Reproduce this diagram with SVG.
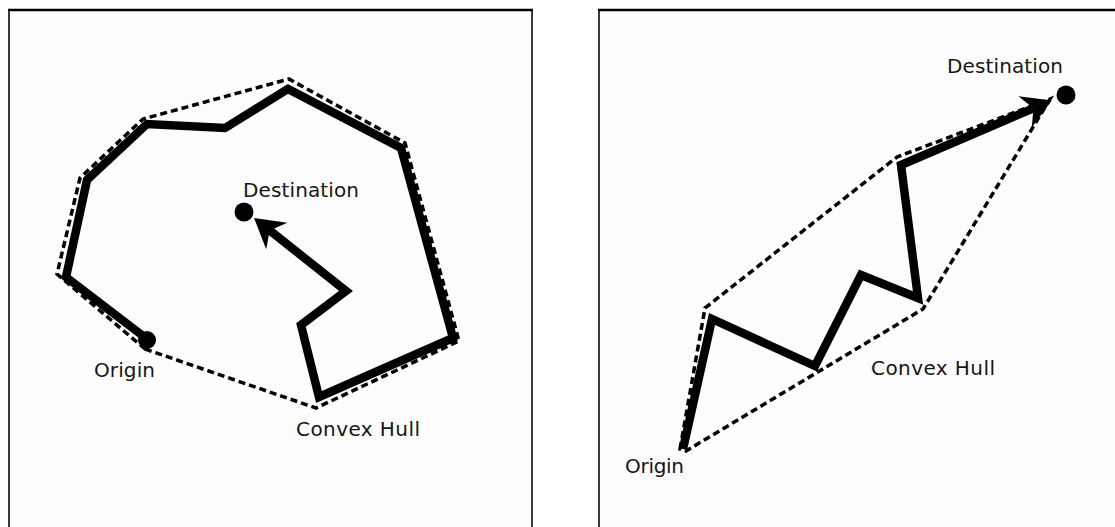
<svg xmlns="http://www.w3.org/2000/svg" width="1115" height="527" viewBox="0 0 1115 527">
  <style>
    .frame { fill: #fdfdfd; stroke: #3a3a3a; stroke-width: 2; }
    .frame-top { stroke: #000; stroke-width: 2.5; }
    .route { fill: none; stroke: #000; stroke-width: 8.5; stroke-linejoin: miter; stroke-miterlimit: 10; }
    .hull { fill: none; stroke: #000; stroke-width: 3.5; stroke-dasharray: 7 4; stroke-linejoin: miter; }
    .dot { fill: #000; }
    .label { font-family: "DejaVu Sans", "Liberation Sans", sans-serif; font-size: 20px; fill: #151515; }
  </style>
  <defs>
    <!-- concave arrowhead; the line ends at the notch, the tip sits 20 units ahead -->
    <marker id="arrow" markerUnits="userSpaceOnUse" viewBox="-10 -19 32 38" markerWidth="32" markerHeight="38" refX="0" refY="0" orient="auto">
      <path d="M20,0 L-9,-17 L0,0 L-9,17 Z" fill="#000"/>
    </marker>
  </defs>

  <rect width="1115" height="527" fill="#ffffff"/>

  <!-- left panel: route wandering around before reaching an interior destination -->
  <g id="panel-left">
    <rect class="frame" x="9" y="10" width="523" height="530"/>
    <line class="frame-top" x1="8" y1="10" x2="533" y2="10"/>

    <polygon id="hull-left" class="hull" points="145,349 316,408 459,341 405,143 289,79 143,119 80,178 57,274"/>

    <polyline id="route-left" class="route" marker-end="url(#arrow)"
      points="147,339 66,277 87,180 147,124 225,128 288,89 401,148 453,338 387,367 319,397 301,325 346,291 269.7,230.4"/>

    <circle id="origin-left" class="dot" cx="147" cy="340" r="9"/>
    <circle id="destination-left" class="dot" cx="244" cy="212" r="9.5"/>

    <text class="label" x="243" y="197" textLength="116">Destination</text>
    <text class="label" x="94" y="377" textLength="61">Origin</text>
    <text class="label" x="296" y="436" textLength="124">Convex Hull</text>
  </g>

  <!-- right panel: zig-zag route heading out to a far destination -->
  <g id="panel-right">
    <rect class="frame" x="599" y="10" width="600" height="530"/>
    <line class="frame-top" x1="598" y1="10" x2="1115" y2="10"/>

    <polygon id="hull-right" class="hull" points="680,449 705,308 897,157 1050,99 923,309 686,451"/>

    <polyline id="route-right" class="route" marker-end="url(#arrow)"
      points="683,449 712,319 815,366 861,275 918,298 901,165 1033.4,108.3"/>

    <circle id="destination-right" class="dot" cx="1066" cy="95" r="9.5"/>

    <text class="label" x="947" y="73" textLength="116">Destination</text>
    <text class="label" x="871" y="375" textLength="124">Convex Hull</text>
    <text class="label" x="625" y="473" textLength="59">Origin</text>
  </g>
</svg>
